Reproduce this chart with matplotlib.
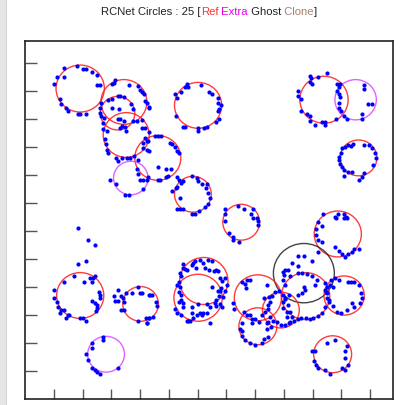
import matplotlib
matplotlib.use("Agg")
import matplotlib.pyplot as plt
from matplotlib.patches import Circle, Rectangle
import numpy as np

# circles found by RCNet: centre x, centre y, radius, kind
circle_x = [96, 172, 161, 176, 231, 184, 301, 292, 376, 520, 575, 580, 544,
            485, 555, 488, 445, 405, 405, 311, 301, 96, 201, 141, 535]
circle_y = [85, 109, 129, 168, 209, 245, 115, 274, 324, 105, 105, 209, 345,
            415, 455, 456, 481, 459, 510, 429, 459, 455, 470, 560, 560]
circle_r = [42, 40, 30, 40, 40, 30, 41, 32, 32, 42, 36, 32, 41,
            53, 35, 42, 32, 41, 33, 42, 42, 41, 31, 32, 33]
circle_kind = ["ref", "ref", "ref", "ref", "ref", "extra", "ref", "ref", "ref",
               "ref", "extra", "ref", "ref", "ghost", "ref", "ref", "ref", "ref",
               "ref", "ref", "ref", "ref", "ref", "extra", "ref"]

kind_color = {"ref": "#ff1a1a", "extra": "#dd44ff", "ghost": "#222222", "clone": "#a07868"}

# detected edge points
dots = [
    # top left
    (67, 49), (91, 44), (101, 50), (106, 50), (116, 55), (125, 61), (56, 64), (67, 64),
    (50, 76), (125, 79), (130, 79), (60, 104), (63, 113), (71, 119), (75, 125), (92, 130),
    (96, 130), (106, 130),
    # stacked group
    (155, 75), (157, 70), (152, 76), (180, 79), (197, 80), (200, 88), (203, 92), (207, 94),
    (209, 107), (216, 118), (132, 110), (130, 119), (130, 128), (132, 134), (138, 137),
    (135, 146), (136, 158), (142, 160), (145, 106), (151, 104), (161, 98), (166, 98),
    (173, 100), (184, 113), (187, 122), (152, 119), (164, 122), (161, 140), (166, 140),
    (173, 143), (188, 143), (194, 143), (204, 142), (168, 152), (174, 154), (165, 156),
    (175, 160), (203, 155), (208, 156), (215, 162), (212, 178), (206, 182), (206, 191),
    (216, 197), (139, 176), (141, 185), (142, 194), (145, 200), (159, 209), (161, 215),
    (168, 209), (177, 209), (183, 209), (190, 206), (197, 213),
    (147, 249), (159, 255), (174, 275), (180, 275), (206, 265), (200, 249), (206, 249),
    (212, 249), (197, 238), (194, 229),
    (212, 110), (216, 119), (209, 173), (214, 179), (213, 194),
    (226, 169), (232, 169), (236, 169), (252, 182), (256, 185), (261, 190), (265, 197),
    (267, 201), (231, 225), (246, 229), (254, 229), (231, 249), (235, 249), (246, 244),
    (249, 241), (214, 244),
    # middle column
    (265, 243), (267, 249), (271, 253), (275, 250), (290, 241), (299, 245), (301, 250),
    (308, 256), (314, 262), (316, 255), (318, 271), (322, 280), (319, 292), (313, 297),
    (303, 304), (296, 310), (290, 310), (275, 301), (270, 301), (264, 301), (256, 268),
    (262, 262), (265, 261), (270, 280),
    (281, 76), (284, 83), (278, 83), (271, 91), (261, 94), (264, 102), (262, 134),
    (306, 79), (320, 91), (325, 94), (335, 102), (336, 110), (341, 114), (337, 122),
    (335, 126), (337, 140), (332, 144), (316, 154), (312, 155), (300, 160), (300, 156),
    (278, 154), (274, 154),
    (347, 301), (348, 310), (371, 295), (380, 301), (393, 310), (397, 301), (403, 316),
    (348, 322), (355, 344), (361, 351), (362, 356), (372, 359), (397, 316), (405, 329),
    (406, 322),
    # top right
    (496, 63), (497, 67), (510, 64), (525, 58), (496, 74), (499, 77), (474, 89), (475, 98),
    (480, 104), (480, 125), (490, 130), (496, 134), (496, 143), (504, 150), (516, 144),
    (521, 144), (521, 150), (540, 140),
    (542, 76), (548, 77), (546, 83), (542, 89), (546, 95), (548, 101), (546, 110),
    (546, 119), (550, 126), (555, 134), (560, 139),
    (590, 79), (590, 85), (597, 113), (604, 113), (586, 130), (586, 140),
    (562, 186), (567, 188), (571, 185), (557, 190), (552, 192), (550, 200), (546, 207),
    (546, 213), (548, 220), (551, 226), (555, 231), (562, 234), (569, 234), (555, 241),
    (580, 249), (586, 243), (590, 186), (598, 186), (604, 191), (609, 200), (610, 210),
    (606, 222), (590, 236),
    (519, 310), (539, 315), (544, 310), (554, 310), (558, 315),
    (540, 316), (554, 316), (560, 316), (510, 324), (516, 330), (506, 336), (506, 346),
    (510, 356), (516, 359), (509, 377), (539, 369), (546, 375), (552, 381), (557, 387),
    (561, 381), (568, 378), (573, 372), (580, 371),
    # lower left
    (92, 335), (110, 356), (122, 365), (92, 399), (106, 394),
    (86, 420), (67, 430), (102, 430), (113, 424), (119, 424), (121, 420), (116, 430),
    (128, 449), (130, 454), (130, 459), (51, 445), (51, 460), (55, 467), (57, 475),
    (63, 480), (61, 487), (67, 481), (74, 490), (72, 495), (77, 490), (96, 495),
    (100, 495), (106, 500), (116, 465), (122, 469), (125, 472), (126, 478), (123, 483),
    (155, 455), (161, 445), (167, 455), (157, 465), (162, 465), (171, 460), (173, 467),
    (167, 480), (172, 480), (175, 451), (186, 451), (197, 439), (200, 451), (204, 451),
    (197, 500), (212, 505), (210, 496), (216, 496), (216, 454),
    (217, 454), (221, 454), (228, 467), (229, 473), (223, 493), (216, 495), (212, 505),
    (136, 530), (136, 535), (117, 540), (116, 549), (106, 560), (110, 570), (116, 585),
    (122, 588), (125, 591), (130, 596), (161, 584),
    # lower middle
    (275, 399), (274, 405), (278, 407), (281, 409), (290, 400), (293, 397), (296, 394),
    (297, 406), (304, 391), (310, 397), (319, 391), (325, 394), (313, 405), (320, 409),
    (328, 411), (332, 409), (335, 412), (339, 424), (343, 429), (348, 424), (351, 436),
    (347, 447), (345, 457), (341, 441), (339, 447), (335, 447), (337, 455), (332, 463),
    (330, 469), (333, 473), (339, 471), (343, 475), (325, 439),
    (270, 415), (271, 421), (267, 430), (264, 436), (270, 439), (267, 449), (271, 454),
    (271, 463), (267, 466), (274, 469), (275, 475), (261, 479), (265, 487), (271, 490),
    (281, 500), (287, 500), (300, 471), (291, 475), (290, 486), (299, 490), (304, 486),
    (310, 486), (316, 486), (307, 490), (322, 505), (316, 471), (322, 475), (293, 496),
    (284, 500),
    (361, 469), (364, 479), (378, 430), (383, 435), (386, 427), (391, 427), (384, 441),
    (381, 484), (386, 490), (391, 490), (394, 497), (400, 497), (407, 503), (394, 505),
    (377, 505), (374, 514), (377, 518), (378, 528), (383, 534), (391, 539), (400, 543),
    (412, 540), (415, 533), (420, 514), (423, 502), (412, 490), (417, 484), (422, 472),
    (424, 457), (416, 460), (420, 436),
    # lower right
    (475, 385), (486, 385), (499, 394), (464, 397), (474, 402), (452, 409), (457, 409),
    (449, 413), (451, 418), (461, 421), (449, 427), (452, 436), (486, 439), (482, 451),
    (504, 436), (521, 433), (525, 439), (530, 436), (487, 445),
    (475, 415), (482, 415), (490, 417), (499, 421), (507, 427), (522, 445), (526, 451),
    (525, 459), (528, 467), (522, 475), (517, 487), (509, 491), (501, 495), (496, 497),
    (488, 495), (480, 496), (474, 497), (468, 500), (461, 503), (455, 493), (455, 484),
    (449, 477), (449, 467), (453, 460), (459, 454), (475, 454),
    (533, 427), (539, 424), (546, 427), (561, 430), (567, 430), (573, 430), (580, 436),
    (584, 451), (586, 460), (583, 469), (573, 475), (569, 469), (560, 481), (550, 487),
    (542, 484), (536, 473), (529, 463), (523, 449), (536, 439),
    (435, 448), (442, 447), (449, 454), (453, 461), (457, 472), (461, 484), (465, 493),
    (459, 505), (452, 508), (445, 508), (439, 503), (432, 500), (426, 493), (422, 479),
    (426, 467), (430, 455), (420, 505), (428, 512), (422, 530),
    (525, 540), (539, 535), (560, 545), (557, 555), (556, 566), (561, 580), (557, 588),
    (551, 585), (530, 596), (521, 588), (510, 585), (506, 579), (503, 572), (499, 554),
    (504, 555),
]

tick_x = np.arange(50, 601, 50)
tick_y = np.arange(40, 591, 50)

fig = plt.figure(figsize=(4.05, 4.05), dpi=100)
fig.patch.set_facecolor("white")
fig.patches.append(Rectangle((0, 0), 7 / 405, 1, transform=fig.transFigure,
                             facecolor="#e6e6e6", edgecolor="none"))
fig.patches.append(Rectangle((6 / 405, 0), 1.5 / 405, 1, transform=fig.transFigure,
                             facecolor="#d2d2d2", edgecolor="none"))

ax = fig.add_axes([25 / 405, 6 / 405, 368 / 405, 358 / 405])
ax.set_xlim(0, 640)
ax.set_ylim(640, 0)

dx = [p[0] for p in dots]
dy = [p[1] for p in dots]
ax.scatter(dx, dy, s=9, color="#0000ff", linewidths=0, zorder=3)

for x, y, r, k in zip(circle_x, circle_y, circle_r, circle_kind):
    ax.add_patch(Circle((x, y), r, fill=False, edgecolor=kind_color[k],
                        linewidth=1.0, alpha=0.85, zorder=2))

ax.set_xticks(tick_x)
ax.set_yticks(tick_y)
ax.set_xticklabels([])
ax.set_yticklabels([])
ax.tick_params(axis="x", direction="in", length=7.5, width=1.0, color="#555555",
               top=False)
ax.tick_params(axis="y", direction="in", length=8.5, width=1.0, color="#555555",
               right=False)
for sp in ax.spines.values():
    sp.set_linewidth(1.2)
    sp.set_color("#222222")

# multi-coloured title
parts = [("RCNet Circles : 25 [", "#222222"), ("Ref", "#ff3030"),
         (" Extra", "#e600e6"), (" Ghost", "#222222"), (" Clone", "#a87f70"),
         ("]", "#222222")]
fig.canvas.draw()
rend = fig.canvas.get_renderer()
texts = []
for s, c in parts:
    t = fig.text(0, 1 - 12 / 405, s, color=c, fontsize=8.1,
                 family="Liberation Sans", va="center", ha="left")
    texts.append(t)
widths = [t.get_window_extent(rend).width for t in texts]
x0 = 209 - sum(widths) / 2
for t, w in zip(texts, widths):
    t.set_x(x0 / 405)
    x0 += w

fig.savefig("out.png", dpi=100)
